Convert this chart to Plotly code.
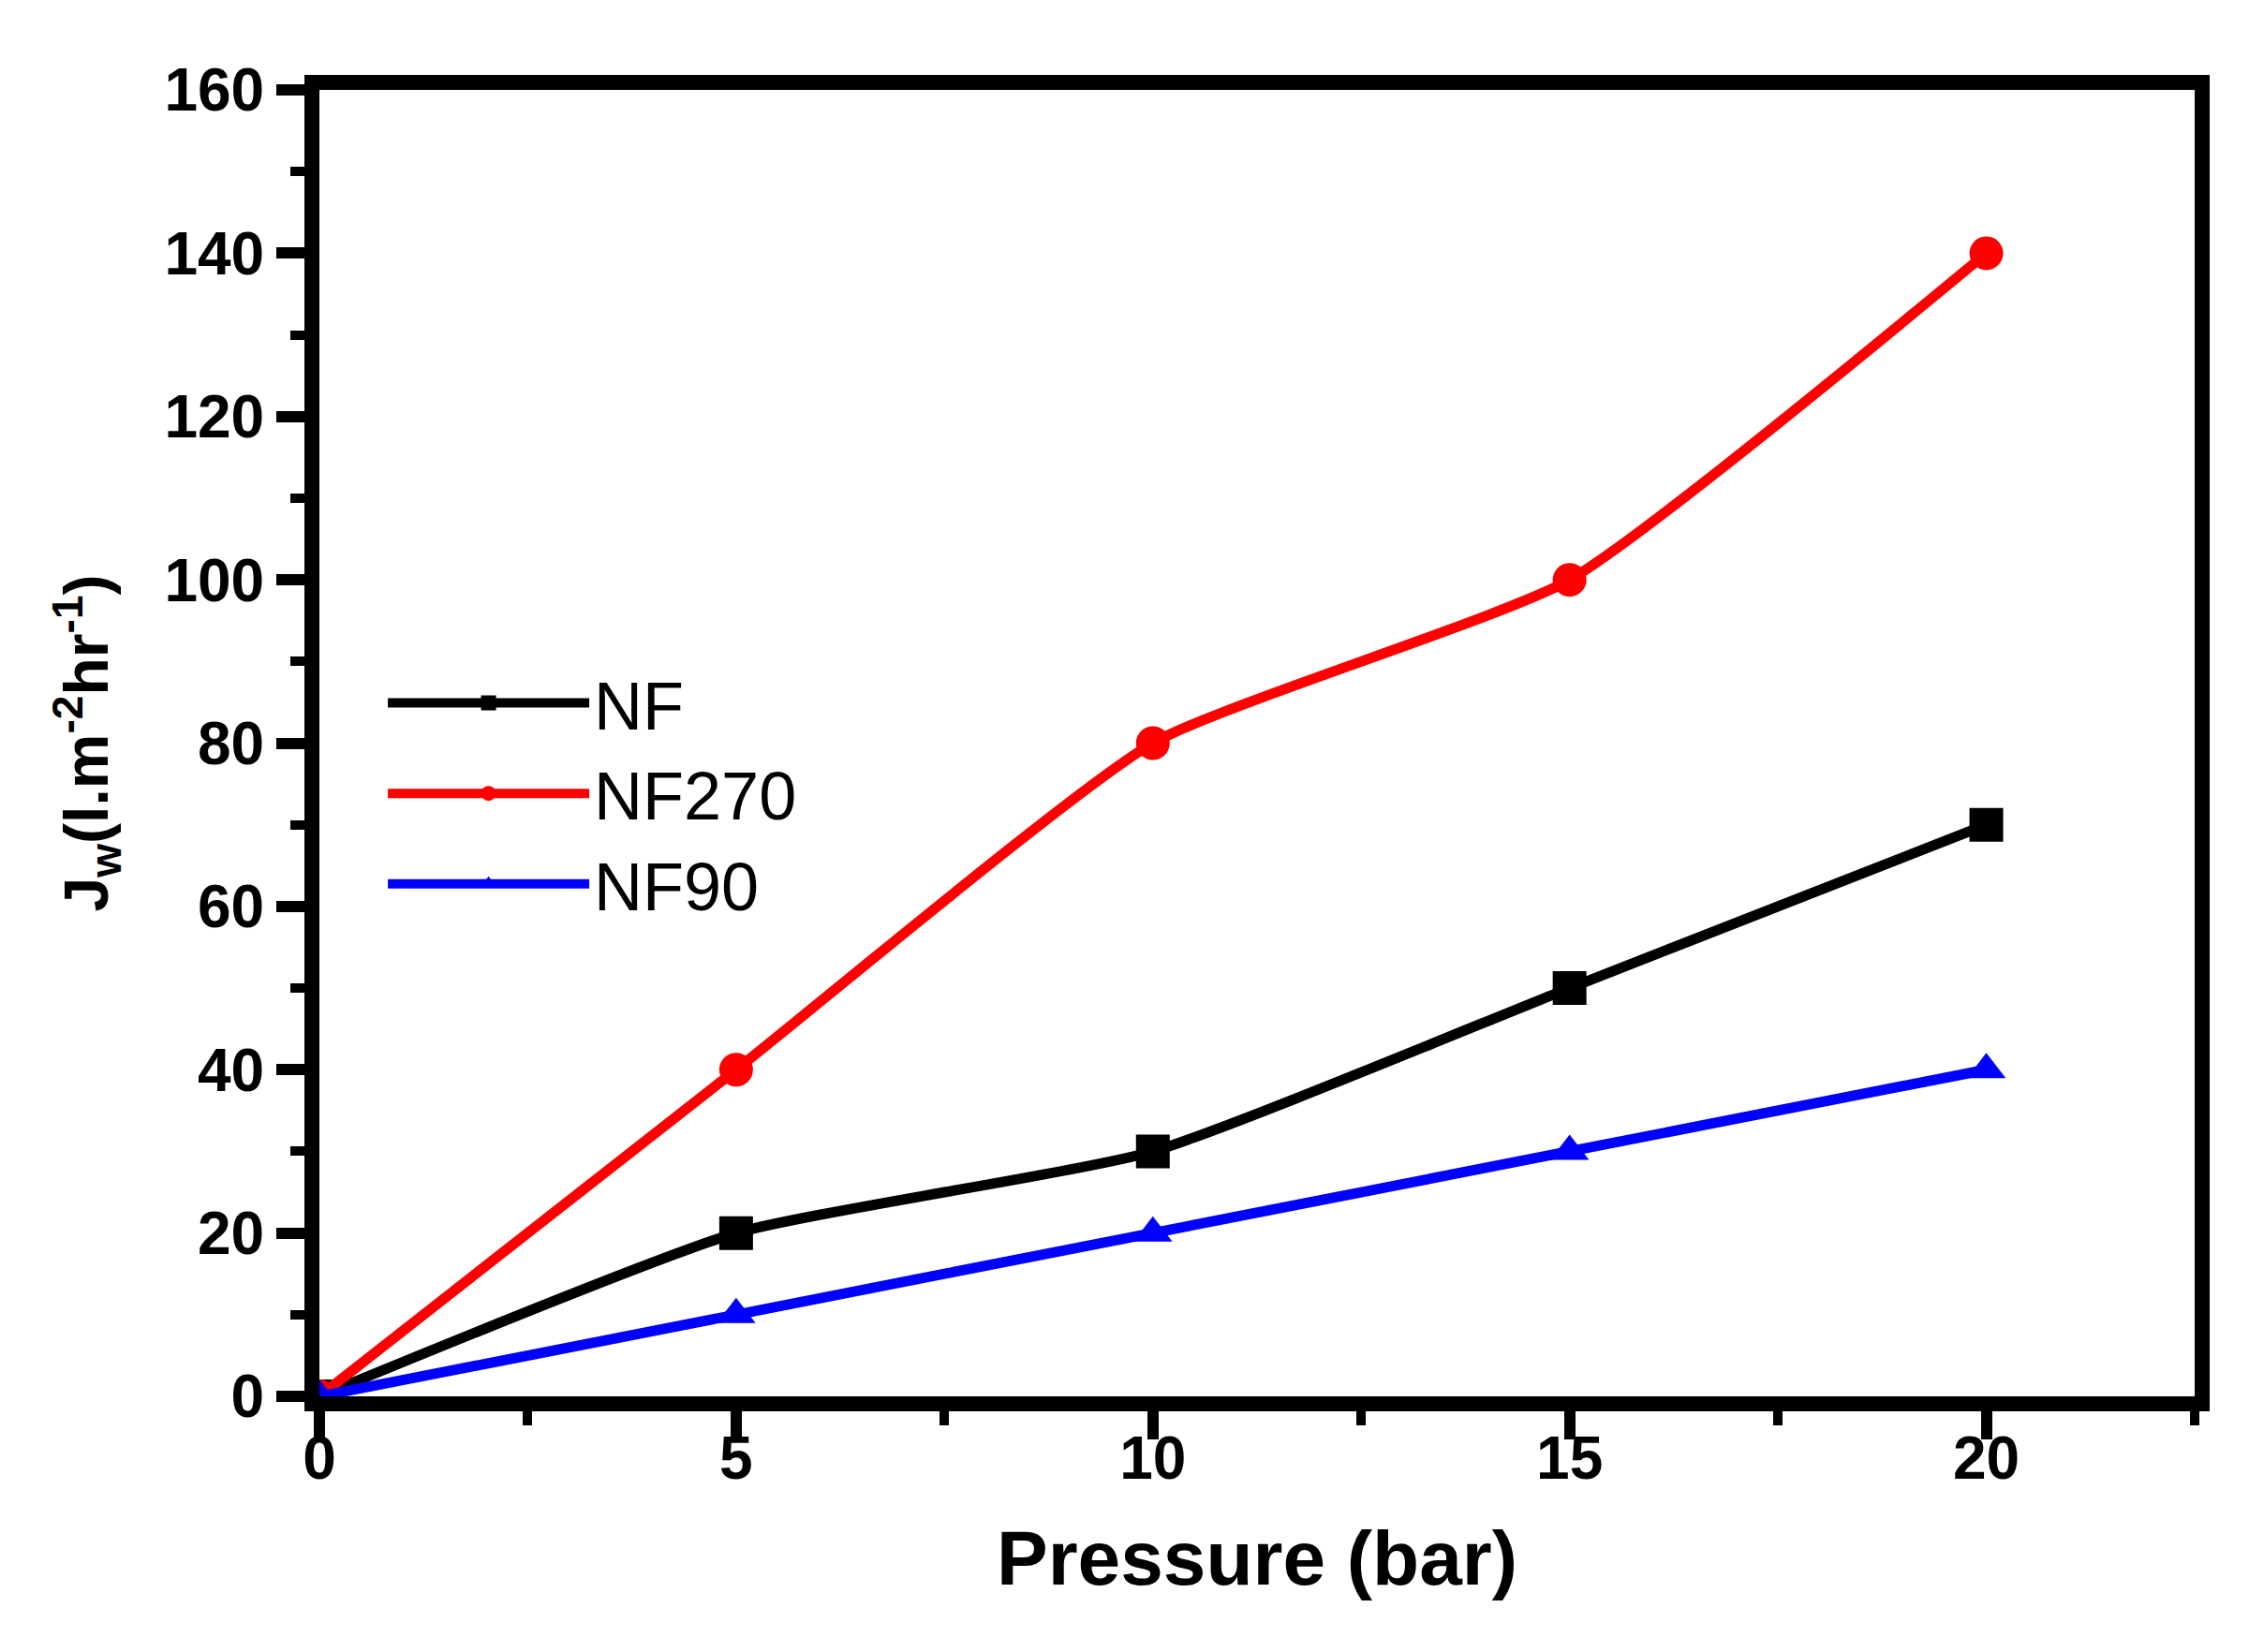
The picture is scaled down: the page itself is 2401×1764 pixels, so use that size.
import plotly.graph_objects as go

# pression (bar) et flux d'eau
pressure = [0, 5, 10, 15, 20]
flux_nf = [0, 20, 30, 50, 70]
flux_nf270 = [0, 40, 80, 100, 140]
flux_nf90 = [0, 10, 20, 30, 40]

series = [
    ("NF", flux_nf, "black", "square"),
    ("NF270", flux_nf270, "#ff0000", "circle"),
    ("NF90", flux_nf90, "#0000ff", "triangle-up"),
]

police = "Liberation Sans, Arial, sans-serif"

fig = go.Figure()

for nom, flux, couleur, symbole in series:
    fig.add_trace(go.Scatter(
        x=pressure,
        y=flux,
        mode="lines+markers",
        name=nom,
        line=dict(color=couleur, width=11, shape="spline", smoothing=0.5),
        marker=dict(color=couleur, symbol=symbole, size=36),
    ))

axe_commun = dict(
    showline=True,
    linecolor="black",
    linewidth=16,
    mirror=True,
    showgrid=False,
    zeroline=False,
    ticks="outside",
    ticklen=30,
    tickwidth=12,
    tickcolor="black",
    tickfont=dict(family=police, size=64, color="black", weight="bold"),
)

fig.update_layout(
    width=2401,
    height=1764,
    plot_bgcolor="white",
    paper_bgcolor="white",
    margin=dict(l=333, r=66, t=88, b=281),
    font=dict(family=police, color="black"),
    xaxis=dict(
        axe_commun,
        range=[0, 22.5],
        tickvals=[0, 5, 10, 15, 20],
        ticklabelstandoff=-35,
        minor=dict(dtick=2.5, ticks="outside", ticklen=15, tickwidth=10, tickcolor="black"),
        title=dict(text="Pressure (bar)", font=dict(family=police, size=82, weight="bold"), standoff=50),
    ),
    yaxis=dict(
        axe_commun,
        range=[0, 160],
        tickvals=list(range(0, 161, 20)),
        minor=dict(dtick=10, ticks="outside", ticklen=15, tickwidth=10, tickcolor="black"),
        title=dict(text="J<sub>w</sub>(l.m<sup>-2</sup>hr<sup>-1</sup>)",
                   font=dict(family=police, size=66, weight="bold"), standoff=45),
    ),
    showlegend=True,
    legend=dict(
        x=0.034, y=0.569, xanchor="left", yanchor="top",
        bgcolor="rgba(0,0,0,0)",
        font=dict(family=police, size=72, color="black"),
        itemwidth=215,
        tracegroupgap=0,
    ),
)

fig.write_html("out.html")
